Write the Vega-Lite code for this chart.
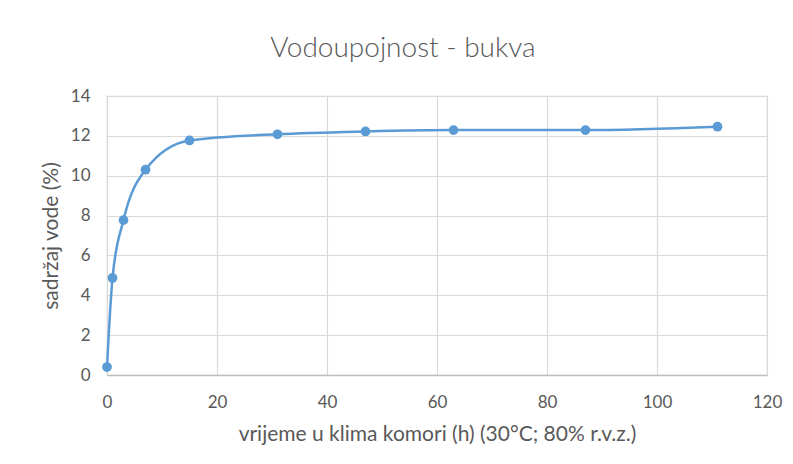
{
  "$schema": "https://vega.github.io/schema/vega-lite/v6.json",
  "autosize": "none",
  "width": 660,
  "height": 279,
  "padding": {"left": 107, "top": 96, "right": 26, "bottom": 89},
  "background": "white",
  "title": {
    "text": "Vodoupojnost  - bukva",
    "font": "Lato",
    "fontSize": 28,
    "fontWeight": 300,
    "color": "#595959",
    "anchor": "middle",
    "dx": -34,
    "offset": 24
  },
  "data": {
    "values": [
      {"t": 0, "w": 0.4},
      {"t": 1, "w": 4.87},
      {"t": 3, "w": 7.77},
      {"t": 7, "w": 10.3},
      {"t": 15, "w": 11.77},
      {"t": 31, "w": 12.08},
      {"t": 47, "w": 12.22},
      {"t": 63, "w": 12.29},
      {"t": 87, "w": 12.29},
      {"t": 111, "w": 12.46}
    ]
  },
  "encoding": {
    "x": {
      "field": "t",
      "type": "quantitative",
      "scale": {"domain": [0, 120], "nice": false, "zero": false},
      "axis": {
        "title": "vrijeme u klima komori (h) (30°C; 80% r.v.z.)",
        "values": [0, 20, 40, 60, 80, 100, 120],
        "labelFlush": false,
        "labelPadding": 19,
        "titlePadding": 13,
        "titleFontSize": 21,
        "domainColor": "#bfbfbf",
        "domainWidth": 1.5
      }
    },
    "y": {
      "field": "w",
      "type": "quantitative",
      "scale": {"domain": [0, 14], "nice": false},
      "axis": {
        "title": "sadržaj vode (%)",
        "values": [0, 2, 4, 6, 8, 10, 12, 14],
        "labelFlush": false,
        "labelPadding": 17,
        "titlePadding": 9,
        "titleFontSize": 21,
        "domain": false
      }
    }
  },
  "layer": [
    {
      "mark": {"type": "line", "interpolate": "monotone", "color": "#5B9BD5", "strokeWidth": 2.5}
    },
    {
      "mark": {"type": "point", "filled": true, "opacity": 1, "size": 95, "color": "#5B9BD5"}
    }
  ],
  "config": {
    "view": {"stroke": "#d9d9d9", "strokeWidth": 1.2},
    "axis": {
      "ticks": false,
      "grid": true,
      "gridColor": "#d9d9d9",
      "gridWidth": 1.2,
      "labelFont": "Lato",
      "labelFontSize": 17,
      "labelColor": "#595959",
      "titleFont": "Lato",
      "titleFontWeight": "normal",
      "titleColor": "#595959"
    }
  }
}
